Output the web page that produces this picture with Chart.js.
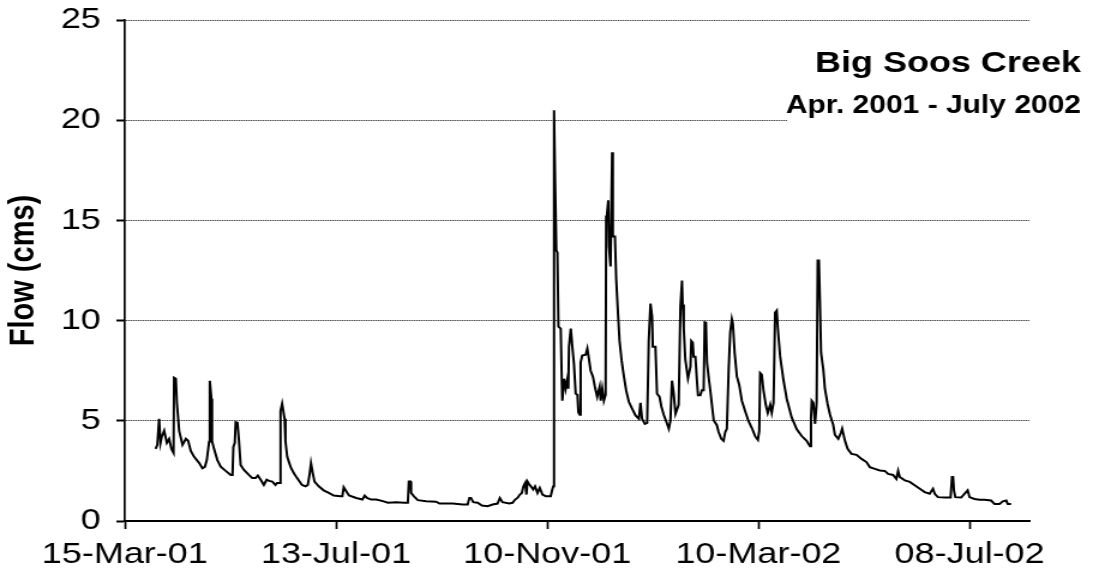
<!DOCTYPE html>
<html>
<head>
<meta charset="utf-8">
<script src="https://cdn.jsdelivr.net/npm/chart.js@4.4.0/dist/chart.umd.min.js"></script>
<style>
html,body{margin:0;padding:0;background:#fff;overflow:hidden;}
#wrap{width:1093px;height:586px;position:relative;}
canvas{display:block;}
</style>
</head>
<body>
<div id="wrap"><canvas id="c" width="911" height="586" style="width:1093px;height:586px;"></canvas></div>
<script>
// ---- data (days counted from 15-Mar-01) ----
const tickDays = [0, 120, 240, 360, 480];
const tickLabels = ['15-Mar-01', '13-Jul-01', '10-Nov-01', '10-Mar-02', '08-Jul-02'];
const yTicks = [0, 5, 10, 15, 20, 25];
const chartTitle = 'Big Soos Creek';
const chartSubtitle = 'Apr. 2001 - July 2002';
const yAxisTitle = 'Flow (cms)';

const dayNumbers = [
 17.5,18.5,19.5,20.3,21,22.4,23.9,25.2,26.5,27.7,28.0,29.0,29.6,30.9,32.8,34.7,36.0,37.5,39.4,42.2,
 44.1,45.5,46.6,47.9,48.3,49.2,49.6,50.7,52.6,54.5,57.3,60.2,61.2,61.7,62.5,63.0,64.0,64.9,65.8,67.7,
 70.5,72.4,74.3,75.6,77.2,79.0,80.6,82,83.8,85.6,86.5,88.1,88.5,89.4,90.8,91.3,92.3,94.2,96.0,97.9,
 100.7,102.7,104,105.1,105.8,106.8,107.8,110.2,113.0,115.9,118.7,122.5,123.6,124.4,125.9,127.4,131.5,135.0,136.3,137.6,
 140.0,142.9,146.6,149.5,154.2,158.9,160.8,161.4,162.3,162.7,164.6,166.5,171.2,176.9,178.8,186.3,192.0,194.8,195.8,196.7,
 198.0,200.5,202.9,206.1,209.0,211.8,213.1,214.6,218.4,220.3,221.8,223.1,224.5,225.6,226.5,227.5,228.2,228.8,229.7,230.7,
 232.0,233.1,234.5,235.8,237.3,239.2,242.0,242.9,243.5,243.9,244.5,245.2,245.8,246.4,247.7,248.3,248.6,249.6,250.5,251.5,
 252.0,252.4,253.4,254.3,255.2,256.2,257.2,257.7,258.5,259.0,259.9,261.9,262.8,263.7,264.7,266.0,267.1,268.4,269.8,270.4,
 271.3,272.2,273.2,273.5,274.0,274.7,275.1,276.0,276.9,277.3,278.5,279.2,280.2,281.1,282.3,283.6,284.9,286.4,288.3,290.2,
 292.1,293.0,293.9,295.5,296.8,297.7,298.7,299.6,300.0,301.5,302.4,303.8,304.9,306.2,307.5,309.1,310.0,310.9,311.9,312.9,
 314.7,315.7,316.6,317.0,317.6,318.5,320.0,321.4,321.9,322.7,323.2,324.2,325.1,325.7,327.0,327.9,328.9,329.5,330.2,330.8,
 331.7,332.7,334.6,336.4,337.4,338.9,340.2,341.2,342.1,343.1,344.0,344.9,345.5,346.5,347.8,349.1,350.6,352.5,354.4,356.3,
 358.2,359.7,360.5,361.0,361.9,362.9,364.2,365.3,366.7,367.6,368.6,369.5,370.4,371.0,372.3,374.2,376.1,378.9,381.8,384.6,
 387.4,389.3,389.9,390.3,391.2,392.2,393.1,393.7,394.4,395.0,395.6,396.9,397.8,399.3,400.7,402.5,403.5,405.4,406.9,407.6,
 409.2,410.7,412.9,415.8,418.6,421.4,423.3,426.2,429.0,431.8,433.7,436.5,438.4,439.4,440.3,443.2,446.0,448.8,451.7,454.5,
 457.3,459.2,460.2,462.0,465.8,469.2,470.0,470.6,471.1,471.9,475.2,478.9,480.0,482.8,485.7,488.5,492.2,494.2,497.0,498.9,
 500.8,501.7,503.6
];
const flowCms = [
 3.6,3.8,5.1,3.9,4.2,4.5,3.9,4.1,3.6,3.4,7.15,7.1,5.9,4.5,3.8,4.1,4.0,3.5,3.2,2.9,
 2.63,2.7,3.04,3.95,7.0,6.1,3.98,3.6,3.04,2.71,2.5,2.3,2.3,3.7,3.9,4.93,4.9,3.98,2.8,2.55,
 2.3,2.14,2.14,2.27,2.06,1.8,2.06,2.0,1.97,1.8,1.9,1.9,5.5,5.85,5.1,3.98,3.2,2.7,2.39,2.14,
 1.8,1.73,1.8,2.39,2.88,2.39,1.97,1.73,1.53,1.40,1.27,1.24,1.24,1.68,1.47,1.27,1.15,1.07,1.27,1.15,
 1.07,1.07,0.99,0.91,0.94,0.91,0.91,1.97,1.97,1.40,1.2,1.04,0.99,0.96,0.87,0.87,0.82,0.82,1.15,1.15,
 0.94,0.91,0.77,0.74,0.82,0.87,1.15,0.94,0.87,0.91,1.07,1.15,1.32,1.40,1.73,1.9,1.32,1.97,1.85,1.73,
 1.57,1.73,1.40,1.65,1.32,1.24,1.24,1.57,1.73,20.5,17.0,13.5,13.4,9.7,9.6,7.0,6.0,7.1,6.6,7.1,
 6.6,8.7,9.6,8.7,7.85,6.35,6.3,5.43,5.3,7.9,8.26,8.3,8.6,8.1,7.5,7.2,6.7,6.2,6.7,6.0,
 6.6,6.0,6.3,15.2,15.3,16.0,13.7,12.7,18.4,14.2,14.2,12.1,10.4,9.0,8.0,7.2,6.5,5.95,5.6,5.27,
 5.1,5.9,5.1,4.85,4.9,9.0,10.85,10.2,8.7,8.7,6.35,6.2,5.7,5.3,5.0,4.6,5.0,7.0,6.35,5.35,
 5.8,10.7,12.0,10.8,9.58,8.05,7.12,7.7,8.98,8.9,8.2,8.2,7.0,6.27,6.27,6.52,6.52,9.92,9.9,7.9,
 7.2,6.5,5.03,4.78,4.44,4.1,4.0,4.45,4.6,7.55,9.4,10.08,9.85,8.4,7.2,6.8,6.0,5.48,4.98,4.64,
 4.22,4.05,4.5,7.38,7.3,6.52,5.8,5.39,5.8,5.4,5.9,10.4,10.5,9.67,8.25,7.06,6.1,5.17,4.58,4.24,
 4.0,3.73,5.15,6.0,5.9,4.85,5.9,13.0,13.0,10.9,8.4,7.55,6.6,5.85,5.3,4.8,4.3,4.1,4.4,4.6,
 4.0,3.6,3.35,3.3,3.1,2.94,2.69,2.6,2.52,2.5,2.35,2.3,2.1,2.5,2.2,2.03,1.95,1.78,1.61,1.44,
 1.36,1.61,1.36,1.19,1.17,1.17,2.2,2.2,1.53,1.19,1.17,1.53,1.19,1.1,1.06,1.06,1.02,0.85,0.85,0.98,
 1.02,0.85,0.85
];

const FONT = '"Liberation Sans", Arial, sans-serif';

const titleBox = {
  id: 'titleBox',
  afterDatasetsDraw(chart) {
    const ctx = chart.ctx;
    ctx.save();
    ctx.fillStyle = '#fff';
    ctx.fillRect(656, 36, 255, 88);
    ctx.fillStyle = '#000';
    ctx.textAlign = 'right';
    ctx.textBaseline = 'alphabetic';
    ctx.font = 'bold 30px ' + FONT;
    ctx.fillText(chartTitle, 901, 72);
    ctx.font = 'bold 25px ' + FONT;
    ctx.fillText(chartSubtitle, 901, 113);
    ctx.restore();
  }
};

new Chart(document.getElementById('c'), {
  type: 'line',
  data: {
    datasets: [{
      data: dayNumbers.map((d, i) => ({ x: d, y: flowCms[i] })),
      borderColor: '#000',
      borderWidth: 2,
      pointRadius: 0,
      tension: 0,
      fill: false
    }]
  },
  options: {
    responsive: false,
    animation: false,
    devicePixelRatio: 1,
    layout: { padding: { top: 20, right: 53, left: 0, bottom: 0 } },
    plugins: { legend: { display: false }, tooltip: { enabled: false } },
    scales: {
      x: {
        type: 'linear',
        min: 0,
        max: 514,
        afterBuildTicks: s => { s.ticks = tickDays.map(v => ({ value: v })); },
        afterFit: s => { s.height = 65; },
        ticks: {
          autoSkip: false,
          maxRotation: 0,
          padding: 8,
          color: '#000',
          font: { family: FONT, size: 30 },
          callback: (v, i) => tickLabels[i]
        },
        grid: { drawOnChartArea: false, drawTicks: true, tickLength: 8, tickColor: '#000', tickWidth: 1.7, color: '#000' },
        border: { display: true, color: '#000', width: 2 }
      },
      y: {
        min: 0,
        max: 25,
        afterBuildTicks: s => { s.ticks = yTicks.map(v => ({ value: v })); },
        afterFit: s => { s.width = 104; s.paddingTop = 0; s.paddingBottom = 0; },
        ticks: {
          padding: 13,
          color: '#000',
          font: { family: FONT, size: 30 }
        },
        grid: {
          color: c => (c.tick && c.tick.value === 0) ? 'rgba(0,0,0,0)' : '#000',
          lineWidth: 1,
          drawTicks: true,
          tickLength: 7,
          tickColor: '#000',
          tickWidth: 2
        },
        border: { display: true, color: '#000', width: 1.7, dash: [1, 1] },
        title: {
          display: true,
          text: yAxisTitle,
          color: '#000',
          font: { family: FONT, size: 29, weight: 'bold' },
          padding: { top: 3, bottom: 0 }
        }
      }
    }
  },
  plugins: [titleBox]
});
</script>
</body>
</html>
